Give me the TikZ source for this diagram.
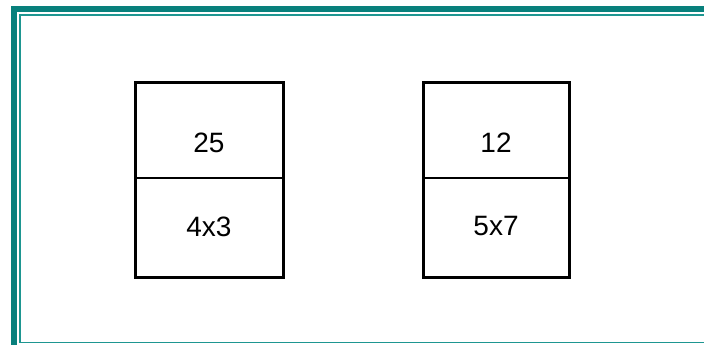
\documentclass[tikz,border=0pt]{standalone}
\usepackage{fontspec}
\setmainfont{Liberation Sans}
\definecolor{bandteal}{RGB}{8,128,124}
\definecolor{thinteal}{RGB}{30,150,145}
\tikzset{
  cell/.style={draw=black, line width=3pt, fill=white},
  divider/.style={draw=black, line width=1.6pt},
  num/.style={font=\fontsize{28}{33}\selectfont, inner sep=0pt, anchor=center},
}
\begin{document}
\begin{tikzpicture}[x=1pt,y=-1pt]
\useasboundingbox[fill=white] (0,0) rectangle (704,345);
% outer teal band (top and left)
\fill[bandteal] (11,6) rectangle (704,12);
\fill[bandteal] (11,6) rectangle (17,345);
% inner thin line
\draw[thinteal, line width=1.6pt] (704,14.8) -- (19.8,14.8) -- (19.8,342.6) -- (704,342.6);
% box 1
\draw[cell] (135,82) rectangle (283,277);
\coordinate (l1) at (135,178);
\coordinate (r1) at (283,178);
\draw[divider] (l1) -- (r1);
\node[num] (a1) at (209,142.5) {25};
\node[num] (b1) at (209,226.5) {4x3};
% box 2
\draw[cell] (423,82) rectangle (569,277);
\coordinate (l2) at (423,178);
\coordinate (r2) at (569,178);
\draw[divider] (l2) -- (r2);
\node[num] (a2) at (496,142.5) {12};
\node[num] (b2) at (496,226.5) {5x7};
\end{tikzpicture}
\end{document}
